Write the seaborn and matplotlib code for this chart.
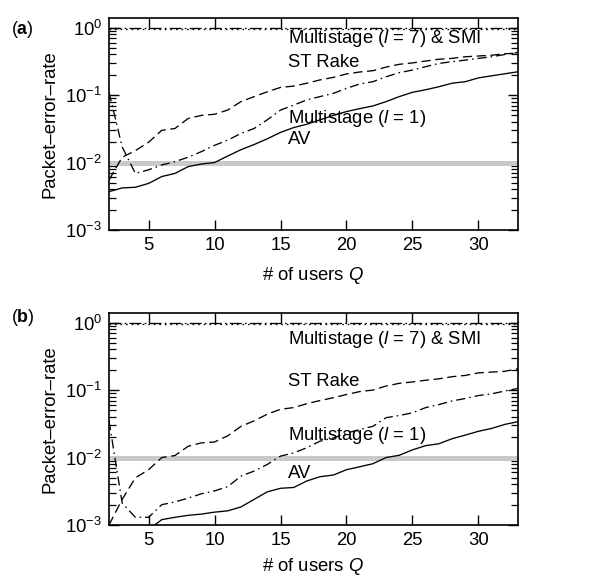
import matplotlib
matplotlib.use("Agg")
import matplotlib.pyplot as plt
import seaborn as sns
from matplotlib.ticker import LogLocator, LogFormatterSciNotation, FixedLocator, NullLocator

# ---------------------------------------------------------------- data
users = list(range(2, 34))

# (a) packet-error-rate versus number of users
av_a = [3.7e-3, 4.2e-3, 4.3e-3, 4.9e-3, 6.2e-3, 6.9e-3, 8.7e-3, 9.5e-3,
        1.0e-2, 1.25e-2, 1.55e-2, 1.85e-2, 2.25e-2, 2.8e-2, 3.3e-2, 3.7e-2,
        4.3e-2, 5.0e-2, 5.7e-2, 6.3e-2, 6.9e-2, 8.0e-2, 9.5e-2, 0.11,
        0.12, 0.133, 0.15, 0.158, 0.18, 0.193, 0.207, 0.222]
rake_a = [5.5e-3, 1.2e-2, 1.5e-2, 2.0e-2, 3.0e-2, 3.2e-2, 4.5e-2, 5.0e-2,
          5.2e-2, 6.0e-2, 8.0e-2, 9.5e-2, 0.112, 0.13, 0.136, 0.15,
          0.168, 0.183, 0.206, 0.22, 0.23, 0.26, 0.286, 0.30,
          0.32, 0.34, 0.35, 0.37, 0.38, 0.39, 0.41, 0.42]
ms1_a = [0.11, 1.7e-2, 6.9e-3, 7.8e-3, 9.2e-3, 1.03e-2, 1.2e-2, 1.45e-2,
         1.8e-2, 2.15e-2, 2.7e-2, 3.2e-2, 4.3e-2, 6.0e-2, 7.1e-2, 8.5e-2,
         9.5e-2, 0.106, 0.126, 0.146, 0.158, 0.187, 0.215, 0.235,
         0.264, 0.295, 0.313, 0.33, 0.35, 0.37, 0.40, 0.43]

# (b)
av_b = [4.0e-4, 5.0e-4, 6.5e-4, 8.5e-4, 1.2e-3, 1.3e-3, 1.39e-3, 1.45e-3,
        1.55e-3, 1.62e-3, 1.85e-3, 2.4e-3, 3.1e-3, 3.5e-3, 3.6e-3, 4.5e-3,
        5.2e-3, 5.5e-3, 6.6e-3, 7.3e-3, 8.1e-3, 1.0e-2, 1.08e-2, 1.3e-2,
        1.5e-2, 1.6e-2, 1.9e-2, 2.15e-2, 2.45e-2, 2.7e-2, 3.1e-2, 3.4e-2]
rake_b = [1.0e-3, 2.4e-3, 5.0e-3, 6.6e-3, 1.0e-2, 1.07e-2, 1.47e-2, 1.65e-2,
          1.7e-2, 2.1e-2, 2.9e-2, 3.5e-2, 4.4e-2, 5.2e-2, 5.5e-2, 6.3e-2,
          7.0e-2, 7.7e-2, 8.6e-2, 9.5e-2, 0.10, 0.115, 0.126, 0.132,
          0.14, 0.147, 0.158, 0.165, 0.18, 0.185, 0.19, 0.207]
ms1_b = [3.5e-2, 2.1e-3, 1.3e-3, 1.3e-3, 2.0e-3, 2.2e-3, 2.5e-3, 2.9e-3,
         3.2e-3, 3.7e-3, 5.3e-3, 6.3e-3, 7.9e-3, 1.05e-2, 1.17e-2, 1.4e-2,
         1.75e-2, 1.95e-2, 2.3e-2, 2.6e-2, 2.9e-2, 3.9e-2, 4.2e-2, 4.6e-2,
         5.5e-2, 6.1e-2, 6.9e-2, 7.5e-2, 8.3e-2, 8.8e-2, 9.7e-2, 0.106]

# Multistage (l = 7) and SMI stay at the top of the range
span_x = [2, 33]
ms7_level = [1.0, 1.0]
smi_level = [0.97, 0.97]
target_level = [1e-2, 1e-2]

labels_text = [r"Multistage ($\mathit{l}$ = 7) & SMI", "ST Rake",
               r"Multistage ($\mathit{l}$ = 1)", "AV"]

# ---------------------------------------------------------------- style
sns.set_style("ticks")
face = "Liberation Sans"
FS = 13.3

plt.rcParams["font.family"] = [face, "DejaVu Sans"]
plt.rcParams["mathtext.fontset"] = "custom"
plt.rcParams["mathtext.rm"] = face
plt.rcParams["mathtext.it"] = face + ":italic"
plt.rcParams["mathtext.bf"] = face + ":bold"
plt.rcParams["font.size"] = FS
plt.rcParams["axes.linewidth"] = 1.2
for key in ("text.color", "axes.labelcolor", "xtick.color", "ytick.color",
            "axes.edgecolor"):
    plt.rcParams[key] = "black"

fig = plt.figure(figsize=(6.10, 5.79), dpi=100)
ax_a = fig.add_axes([0.1787, 0.6028, 0.6705, 0.3661])
ax_b = fig.add_axes([0.1787, 0.0933, 0.6705, 0.3661])

LW = 0.95
dash_style = (0, (7, 3.5))
dashdot_style = (0, (7, 3, 1.2, 3))
top_style = (0, (9, 2.5, 1.2, 2.5))


def draw_panel(ax, av, rake, ms1, text_y, tag, tag_y, xpad):
    ax.set_yscale("log")
    sns.lineplot(x=span_x, y=target_level, ax=ax, color="#c9c9c9", lw=3.6,
                 zorder=1)
    sns.lineplot(x=span_x, y=ms7_level, ax=ax, color="black", lw=LW,
                 linestyle=top_style, zorder=3)
    sns.lineplot(x=span_x, y=smi_level, ax=ax, color="black", lw=LW,
                 linestyle=(0, (1.2, 3)), zorder=3)
    sns.lineplot(x=users, y=rake, ax=ax, color="black", lw=LW,
                 linestyle=dash_style, zorder=3)
    sns.lineplot(x=users, y=ms1, ax=ax, color="black", lw=LW,
                 linestyle=dashdot_style, zorder=3)
    sns.lineplot(x=users, y=av, ax=ax, color="black", lw=LW, zorder=3)

    ax.set_xlim(2, 33)
    ax.set_ylim(1e-3, 1.39)
    ax.xaxis.set_major_locator(FixedLocator([5, 10, 15, 20, 25, 30]))
    ax.xaxis.set_minor_locator(NullLocator())
    ax.yaxis.set_major_locator(LogLocator(base=10, numticks=10))
    ax.yaxis.set_minor_locator(LogLocator(base=10, subs=range(2, 10),
                                          numticks=20))
    ax.yaxis.set_major_formatter(LogFormatterSciNotation())
    ax.tick_params(which="both", direction="in", top=True, right=True,
                   color="black", labelcolor="black", labelsize=FS)
    ax.tick_params(which="major", length=7, width=1.0, pad=5)
    ax.tick_params(which="minor", length=5, width=0.9)
    for sp in ax.spines.values():
        sp.set_visible(True)
        sp.set_color("black")

    ax.set_xlabel(r"# of users $\mathit{Q}$", labelpad=xpad)
    ax.set_ylabel("Packet\u2013error\u2013rate", labelpad=5)

    for txt, ty in zip(labels_text, text_y):
        ax.text(0.437, ty, txt, transform=ax.transAxes, ha="left",
                va="center", fontsize=FS)

    fig.text(0.018, tag_y, r"($\mathbf{%s}$)" % tag, ha="left", va="center",
             fontsize=FS - 0.5)


draw_panel(ax_a, av_a, rake_a, ms1_a, [0.901, 0.792, 0.528, 0.425], "a",
           1 - 30 / 579, 8)
draw_panel(ax_b, av_b, rake_b, ms1_b, [0.873, 0.679, 0.421, 0.245], "b",
           1 - 318 / 579, 5)

fig.savefig("out.png", dpi=100)
